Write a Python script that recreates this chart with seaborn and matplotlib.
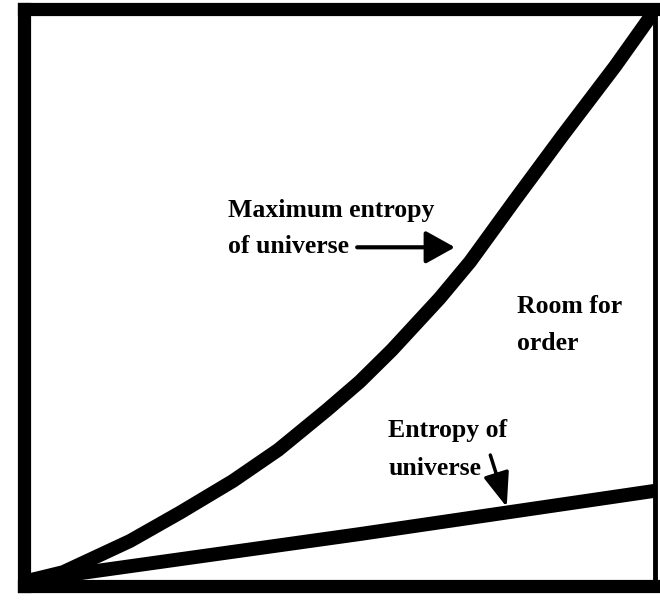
import matplotlib
matplotlib.use("Agg")
import matplotlib.pyplot as plt
import seaborn as sns
import pandas as pd

# Werte (Achsen 0..100)
zeit_max = [0.95, 6.2, 16.8, 24.7, 33.1, 40.3, 48.0, 53.2, 58.3, 65.9,
            70.7, 77.8, 85.3, 93.7, 98.9, 99.5]
entropie_max = [1.0, 2.4, 7.8, 12.7, 18.2, 23.6, 30.5, 35.4, 40.9, 49.9,
                56.2, 66.9, 78.0, 90.1, 98.1, 99.1]

zeit_univ = [0.95, 53.2, 100]
entropie_univ = [1.0, 9.0, 16.5]

df_max = pd.DataFrame({"t": zeit_max, "s": entropie_max})
df_univ = pd.DataFrame({"t": zeit_univ, "s": entropie_univ})

sns.set_style("white")
plt.rcParams['font.family'] = ['Liberation Serif', 'DejaVu Serif']

fig = plt.figure(figsize=(6.6, 6.0), dpi=100)
ax = fig.add_axes([24 / 660, 14 / 600, 631 / 660, 577 / 600])

sns.lineplot(data=df_max, x="t", y="s", ax=ax, color="black", linewidth=10,
             solid_capstyle="butt", solid_joinstyle="round")
sns.lineplot(data=df_univ, x="t", y="s", ax=ax, color="black", linewidth=10,
             solid_capstyle="butt", solid_joinstyle="round")

ax.set_xlim(0, 100)
ax.set_ylim(0, 100)
ax.set_xticks([])
ax.set_yticks([])
ax.set_xlabel("")
ax.set_ylabel("")

# Rahmen: links/oben/unten dick, rechts dünn
for seite in ["left", "top", "bottom"]:
    ax.spines[seite].set_linewidth(9.5)
    ax.spines[seite].set_color("black")
ax.spines["right"].set_linewidth(3.5)
ax.spines["right"].set_color("black")

stil = dict(fontsize=18.5, fontweight="bold", color="black", va="baseline", ha="left")

ax.text(32.3, 63.95, "Maximum entropy", **stil)
ax.text(32.3, 57.7, "of universe", **stil)
ax.annotate("", xy=(68.3, 58.7), xytext=(52.8, 58.7),
            arrowprops=dict(arrowstyle="-|>,head_length=0.9,head_width=0.5",
                            mutation_scale=20, lw=3, color="black",
                            shrinkA=0, shrinkB=0))

ax.text(78.1, 47.3, "Room for", **stil)
ax.text(78.1, 40.9, "order", **stil)

ax.text(57.7, 25.8, "Entropy of", **stil)
ax.text(57.7, 19.2, "universe", **stil)
ax.annotate("", xy=(76.5, 13.7), xytext=(73.9, 22.7),
            arrowprops=dict(arrowstyle="-|>,head_length=1.05,head_width=0.4",
                            mutation_scale=20, lw=2.5, color="black",
                            shrinkA=0, shrinkB=0))

plt.savefig("out.png", dpi=100)
plt.close()
